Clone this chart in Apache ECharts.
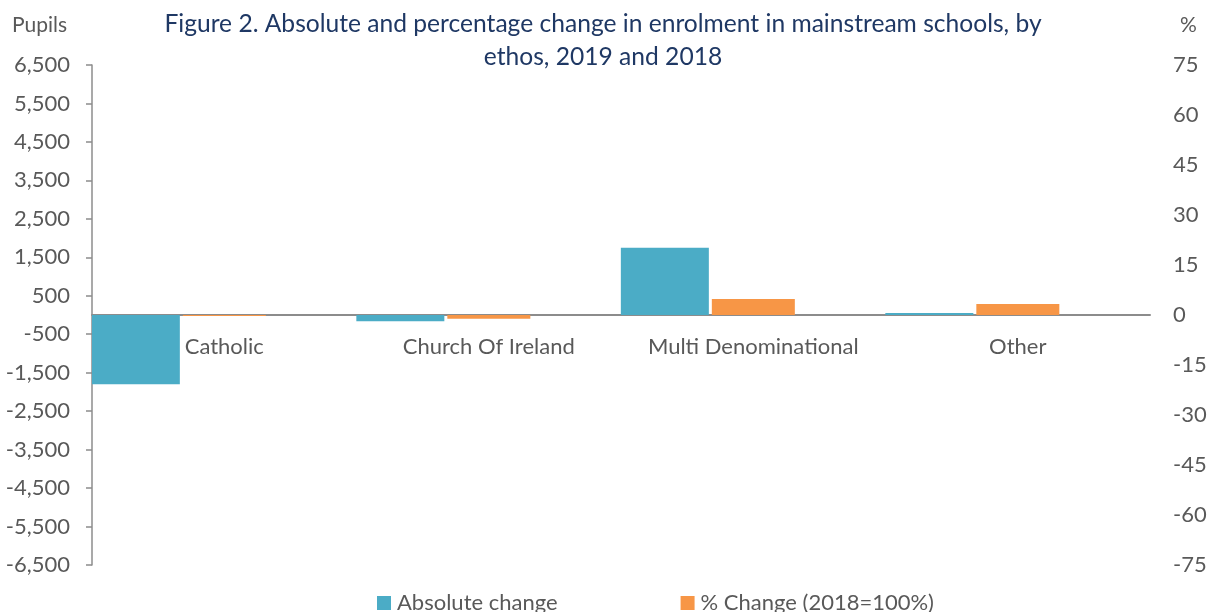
<!DOCTYPE html>
<html>
<head>
<meta charset="utf-8">
<script src="https://cdn.jsdelivr.net/npm/echarts@6/dist/echarts.min.js"></script>
<style>
html,body{margin:0;padding:0;background:#fff;}
#chart{width:1211px;height:612px;}
</style>
</head>
<body>
<div id="chart"></div>
<script>
var categories = ['Catholic', 'Church Of Ireland', 'Multi Denominational', 'Other'];
var absoluteChange = [-1800, -160, 1750, 55];
var percentChange = [-0.3, -1.1, 4.8, 3.3];
var leftTicks = [-6500, -5500, -4500, -3500, -2500, -1500, -500, 500, 1500, 2500, 3500, 4500, 5500, 6500];
var rightTicks = [-75, -60, -45, -30, -15, 0, 15, 30, 45, 60, 75];

var FONT = 'Lato';
var FS = 22;
var TXT = '#595959';
var AXC = '#8c8c8c';

var chart = echarts.init(document.getElementById('chart'), null, {renderer: 'canvas'});
chart.setOption({
  animation: false,
  backgroundColor: '#ffffff',
  textStyle: {fontFamily: FONT},
  title: [
    {
      text: 'Figure 2. Absolute and percentage change in enrolment in mainstream schools, by\nethos, 2019 and 2018',
      left: 603, top: 8, padding: 0,
      textAlign: 'center',
      textStyle: {fontFamily: FONT, fontSize: 24.6, fontWeight: 'normal', color: '#1F3864', lineHeight: 33}
    },
    {
      text: 'Pupils', left: 12, top: 15, padding: 0,
      textStyle: {fontFamily: FONT, fontSize: 21, fontWeight: 'normal', color: TXT}
    },
    {
      text: '%', left: 1180, top: 15, padding: 0,
      textStyle: {fontFamily: FONT, fontSize: 21, fontWeight: 'normal', color: TXT}
    }
  ],
  legend: {
    data: ['Absolute change', '% Change (2018=100%)'],
    left: 377, top: 592, padding: 0,
    icon: 'rect', itemWidth: 14, itemHeight: 14, itemGap: 123,
    textStyle: {fontFamily: FONT, fontSize: FS, color: TXT, padding: [0, 0, 0, 1]}
  },
  grid: {left: 92, right: 61, top: 65, bottom: 47, containLabel: false},
  xAxis: {
    type: 'category',
    data: categories,
    position: 'bottom',
    offset: -250,
    axisLine: {show: true, onZero: false, lineStyle: {color: AXC, width: 2}},
    axisTick: {show: false},
    axisLabel: {interval: 0, fontFamily: FONT, fontSize: FS, color: TXT, margin: 21},
    splitLine: {show: false}
  },
  yAxis: [
    {
      type: 'value', min: -6500, max: 6500,
      axisLine: {show: true, lineStyle: {color: AXC, width: 1.5}},
      axisTick: {show: true, inside: false, length: 6, customValues: leftTicks, lineStyle: {color: AXC, width: 1.5}},
      axisLabel: {
        customValues: leftTicks, margin: 22,
        fontFamily: FONT, fontSize: FS, color: TXT,
        formatter: function (v) { return Number(v).toLocaleString('en-US'); }
      },
      splitLine: {show: false}
    },
    {
      type: 'value', min: -75, max: 75, interval: 15,
      position: 'right',
      axisLine: {show: false},
      axisTick: {show: false},
      axisLabel: {customValues: rightTicks, margin: 23, fontFamily: FONT, fontSize: FS, color: TXT},
      splitLine: {show: false}
    }
  ],
  series: [
    {
      name: 'Absolute change', type: 'bar', yAxisIndex: 0,
      data: absoluteChange, barWidth: 88, barGap: '3.4%',
      itemStyle: {color: '#4BACC6'}
    },
    {
      name: '% Change (2018=100%)', type: 'bar', yAxisIndex: 1,
      data: percentChange, barWidth: 83, barGap: '3.4%',
      itemStyle: {color: '#F79646'}
    },
    {
      name: 'spacer', type: 'bar', yAxisIndex: 0,
      data: [], barWidth: 88, barGap: '3.4%', silent: true
    }
  ]
});
</script>
</body>
</html>
